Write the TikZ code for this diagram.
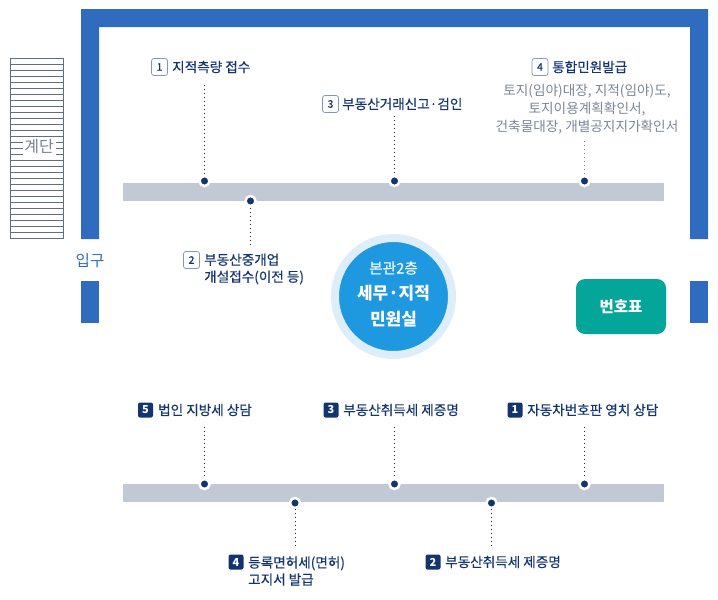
\documentclass[tikz,border=0pt]{standalone}
\usepackage{fontspec}
\setmainfont{Noto Sans CJK KR}
\newfontfamily\krm{Noto Sans CJK KR}[FakeBold=0.35]
\definecolor{wall}{HTML}{2F6CC0}
\definecolor{barc}{HTML}{C1C9D5}
\definecolor{navy}{HTML}{12346F}
\definecolor{stair}{HTML}{5F6E83}
\definecolor{greytxt}{HTML}{7A8698}
\definecolor{teal}{HTML}{05A69A}
\definecolor{circ}{HTML}{1E98DF}
\definecolor{halo}{HTML}{DDEEFA}
\definecolor{outl}{HTML}{7F97BD}
\tikzset{
  wallpart/.style={fill=wall,draw=none},
  barpart/.style={fill=barc,draw=none},
  dotnode/.style={circle,fill=navy,draw=white,line width=2.5pt,inner sep=0pt,minimum size=10pt},
  leader/.style={draw=black!85,line width=1pt,dash pattern=on 1pt off 3pt},
  leaderlight/.style={draw=greytxt,line width=1pt,dash pattern=on 1pt off 3pt},
  lab/.style={font=\krm\fontsize{13.6}{17}\selectfont,text=navy,anchor=west,align=left,inner sep=0pt},
  badgeo/.style={draw=outl,fill=white,line width=.8pt,rounded corners=2.5pt,minimum width=16pt,minimum height=17pt,inner sep=0pt,text=navy,font=\krm\fontsize{10.5}{12}\selectfont},
  badgef/.style={draw=none,fill=navy,rounded corners=2pt,minimum width=15pt,minimum height=15pt,inner sep=0pt,text=white,font=\bfseries\fontsize{11}{12}\selectfont},
}
\begin{document}
\begin{tikzpicture}[x=1pt,y=-1pt]
\useasboundingbox (0,0) rectangle (718,600);
% walls
\fill[wallpart] (81,9) -- (708,9) -- (708,239) -- (690,239) -- (690,27) -- (99,27) -- (99,239) -- (81,239) -- cycle;
\fill[wallpart] (81,281) rectangle (99,323);
\fill[wallpart] (690,281) rectangle (708,323);
% stairs
\draw[stair,line width=.8pt] (10.5,58.5) rectangle (63,238.5);
\foreach \yy in {64.5,70.5,...,232.5} \draw[stair,line width=.8pt] (10.5,\yy) -- (63,\yy);
\node[fill=white,inner sep=0pt,minimum width=33pt,minimum height=20pt,text=stair!85,font=\fontsize{16}{18}\selectfont] (stairlab) at (39,146.5) {계단};
\node[text=wall,font=\fontsize{15.6}{18}\selectfont,inner sep=0pt] (entry) at (90,260.5) {입구};
% bars
\fill[barpart] (122.5,183) rectangle (664,201);
\fill[barpart] (122.5,484) rectangle (664,502);
% dots
\node[dotnode] (d1) at (204.5,181) {};
\node[dotnode] (d2) at (250.5,201) {};
\node[dotnode] (d3) at (394.5,181) {};
\node[dotnode] (d4) at (584.5,181) {};
\node[dotnode] (e5) at (204.5,484) {};
\node[dotnode] (e3) at (394.5,484) {};
\node[dotnode] (e1) at (584.5,484) {};
\node[dotnode] (e4) at (295,503) {};
\node[dotnode] (e2) at (491.5,503) {};
% top labels
\node[badgeo] (b1) at (159.5,67) {1};
\node[lab] (t1) at (172,67) {지적측량 접수};
\node[badgeo] (b2) at (191.5,260) {2};
\node[lab] (t2) at (204,269) {부동산중개업\\개설접수(이전 등)};
\node[badgeo] (b3) at (330.5,104) {3};
\node[lab] (t3) at (342,104) {부동산거래신고·검인};
\node[badgeo] (b4) at (540,67) {4};
\node[lab] (t4) at (552,67) {통합민원발급};
\node[font=\fontsize{13.65}{18}\selectfont,text=greytxt,align=center,inner sep=0pt] (t4b) at (587,109) {토지(임야)대장, 지적(임야)도,\\토지이용계획확인서,\\건축물대장, 개별공지지가확인서};
% bottom labels
\node[badgef] (c5) at (145.5,410) {5};
\node[lab] (u5) at (158,410) {법인 지방세 상담};
\node[badgef] (c3) at (331,410) {3};
\node[lab] (u3) at (343,410) {부동산취득세 제증명};
\node[badgef] (c1) at (515,410) {1};
\node[lab] (u1) at (527,410) {자동차번호판 영치 상담};
\node[badgef] (c4) at (236,562) {4};
\node[lab] (u4) at (248,571) {등록면허세(면허)\\고지서 발급};
\node[badgef] (c2) at (433,562) {2};
\node[lab] (u2) at (445,562) {부동산취득세 제증명};
% leaders
\coordinate (l1) at (204.5,85);
\coordinate (l2) at (250.5,245);
\coordinate (l3) at (394.5,116);
\coordinate (l4) at (584.5,141);
\coordinate (m5) at (204.5,427);
\coordinate (m3) at (394.5,427);
\coordinate (m1) at (584.5,427);
\coordinate (m4) at (295,546);
\coordinate (m2) at (491.5,546);
\draw[leader] (l1) -- (d1);
\draw[leader] (l2) -- (d2);
\draw[leader] (l3) -- (d3);
\draw[leaderlight] (l4) -- (d4);
\draw[leader] (m5) -- (e5);
\draw[leader] (m3) -- (e3);
\draw[leader] (m1) -- (e1);
\draw[leader] (m4) -- (e4);
\draw[leader] (m2) -- (e2);
% centre circle
\node[circle,fill=circ,draw=halo,line width=8pt,minimum size=117pt,inner sep=0pt] (hub) at (393.5,296.5) {};
\node[text=white,font=\krm\fontsize{14.7}{16}\selectfont,inner sep=0pt] (h1) at (393.5,268) {본관2층};
\node[text=white,font=\bfseries\fontsize{17}{18}\selectfont,inner sep=0pt] (h2) at (393.5,293) {세무·지적};
\node[text=white,font=\bfseries\fontsize{17}{18}\selectfont,inner sep=0pt] (h3) at (393.5,319) {민원실};
% number board
\node[fill=teal,rounded corners=9pt,minimum width=90pt,minimum height=55pt,inner sep=0pt,text=white,font=\bfseries\fontsize{15.5}{18}\selectfont] (board) at (621,306.5) {번호표};
\end{tikzpicture}
\end{document}
